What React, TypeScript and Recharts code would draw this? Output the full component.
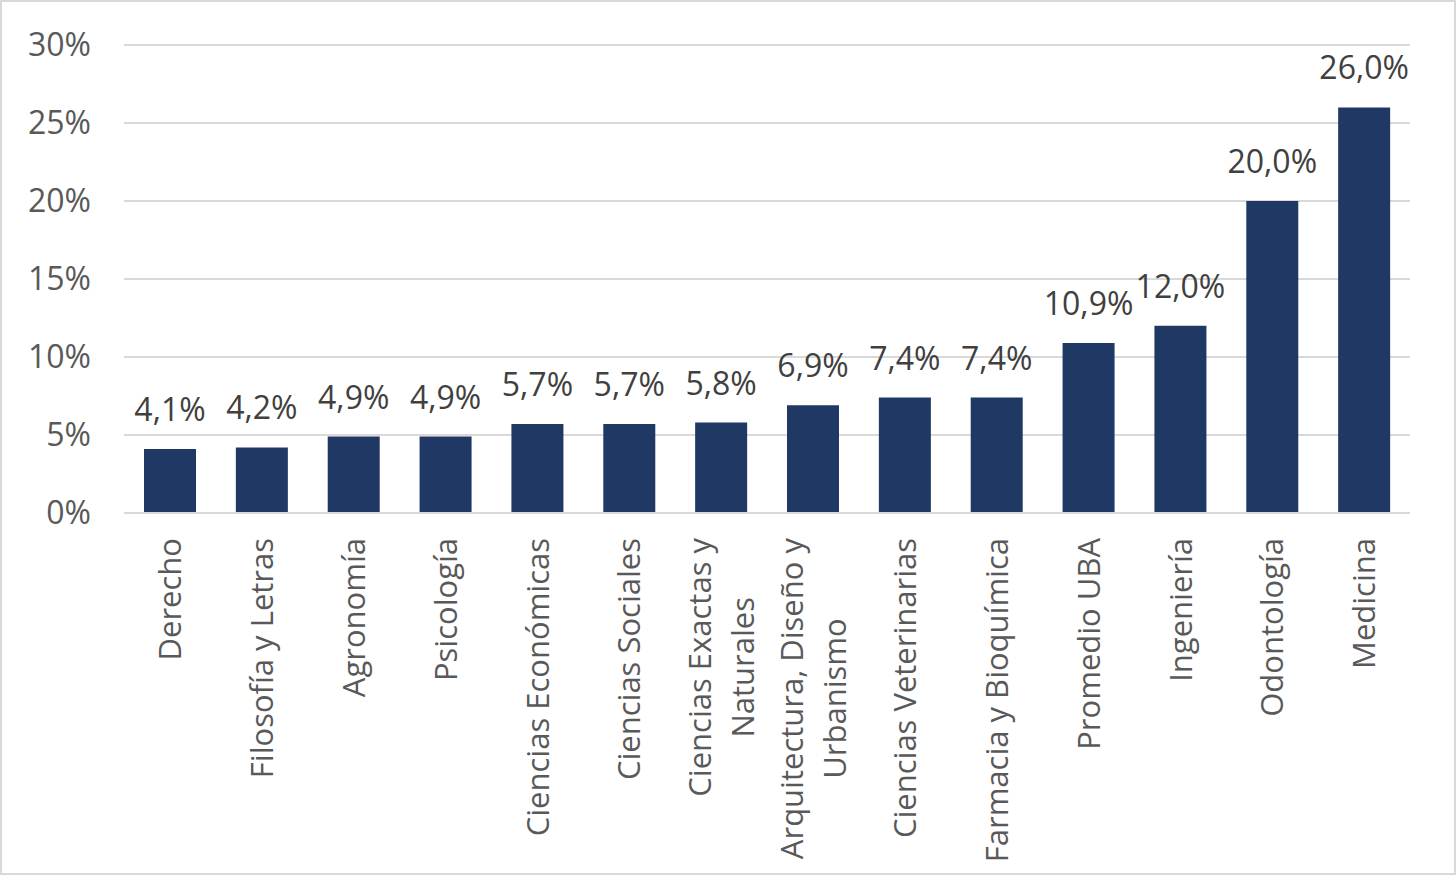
import React from 'react'
import { BarChart, Bar, XAxis, YAxis, CartesianGrid, LabelList } from 'recharts'

// Tasa por facultad (%), ordenada de menor a mayor
const facultades = [
  'Derecho',
  'Filosofía y Letras',
  'Agronomía',
  'Psicología',
  'Ciencias Económicas',
  'Ciencias Sociales',
  'Ciencias Exactas y\nNaturales',
  'Arquitectura, Diseño y\nUrbanismo',
  'Ciencias Veterinarias',
  'Farmacia y Bioquímica',
  'Promedio UBA',
  'Ingeniería',
  'Odontología',
  'Medicina',
]
const valores = [4.1, 4.2, 4.9, 4.9, 5.7, 5.7, 5.8, 6.9, 7.4, 7.4, 10.9, 12.0, 20.0, 26.0]
const ticksY = [0, 5, 10, 15, 20, 25, 30]

const data = facultades.map((nombre, i) => ({ nombre, valor: valores[i] }))

const FONT = '"Open Sans", "Noto Sans", sans-serif'
const TICK_SIZE = 31
const fmtPct = (v: number) => `${v.toFixed(1).replace('.', ',')}%`

let ctx: CanvasRenderingContext2D | null = null
function anchoTexto(s: string) {
  if (!ctx) ctx = document.createElement('canvas').getContext('2d')
  if (!ctx) return s.length * TICK_SIZE * 0.55
  ctx.font = `${TICK_SIZE}px ${FONT}`
  return ctx.measureText(s).width
}

// etiqueta vertical, líneas centradas entre sí y el bloque pegado al eje
function TickCategoria({ x, y, payload }: { x?: number; y?: number; payload?: { value: string } }) {
  const lineas = String(payload?.value ?? '').split('\n')
  const lh = 43
  const inicio = -((lineas.length - 1) / 2) * lh
  const maxAncho = Math.max(...lineas.map(anchoTexto))
  return (
    <g transform={`translate(${x},${y})`}>
      <text
        transform="rotate(-90)"
        textAnchor="middle"
        fill="#595959"
        fontSize={TICK_SIZE}
        fontFamily={FONT}
      >
        {lineas.map((l, i) => (
          <tspan key={i} x={-maxAncho / 2} y={inicio + i * lh} dy="0.36em">
            {l}
          </tspan>
        ))}
      </text>
    </g>
  )
}

export default function App() {
  return (
    <div
      style={{
        position: 'absolute',
        left: 0,
        top: 0,
        width: 1456,
        height: 875,
        boxSizing: 'border-box',
        border: '2px solid #d9d9d9',
        background: '#fff',
      }}
    >
      <BarChart
        width={1452}
        height={871}
        data={data}
        margin={{ top: 43, right: 44, bottom: 0, left: 0 }}
        barSize={52}
      >
        <CartesianGrid vertical={false} stroke="#d9d9d9" strokeWidth={2} />
        <XAxis
          dataKey="nombre"
          interval={0}
          height={360}
          tickLine={false}
          tickSize={0}
          tickMargin={25}
          axisLine={{ stroke: '#d9d9d9', strokeWidth: 2 }}
          tick={<TickCategoria />}
        />
        <YAxis
          domain={[0, 30]}
          ticks={ticksY}
          width={122}
          axisLine={false}
          tickLine={false}
          tickSize={0}
          tickMargin={33}
          tickFormatter={(v: number) => `${v}%`}
          tick={{ fill: '#595959', fontSize: 32, fontFamily: FONT }}
        />
        <Bar dataKey="valor" fill="#1f3864" isAnimationActive={false}>
          <LabelList
            dataKey="valor"
            position="top"
            offset={28}
            formatter={(v: number) => fmtPct(v)}
            fill="#404040"
            fontSize={32}
            fontFamily={FONT}
          />
        </Bar>
      </BarChart>
    </div>
  )
}
